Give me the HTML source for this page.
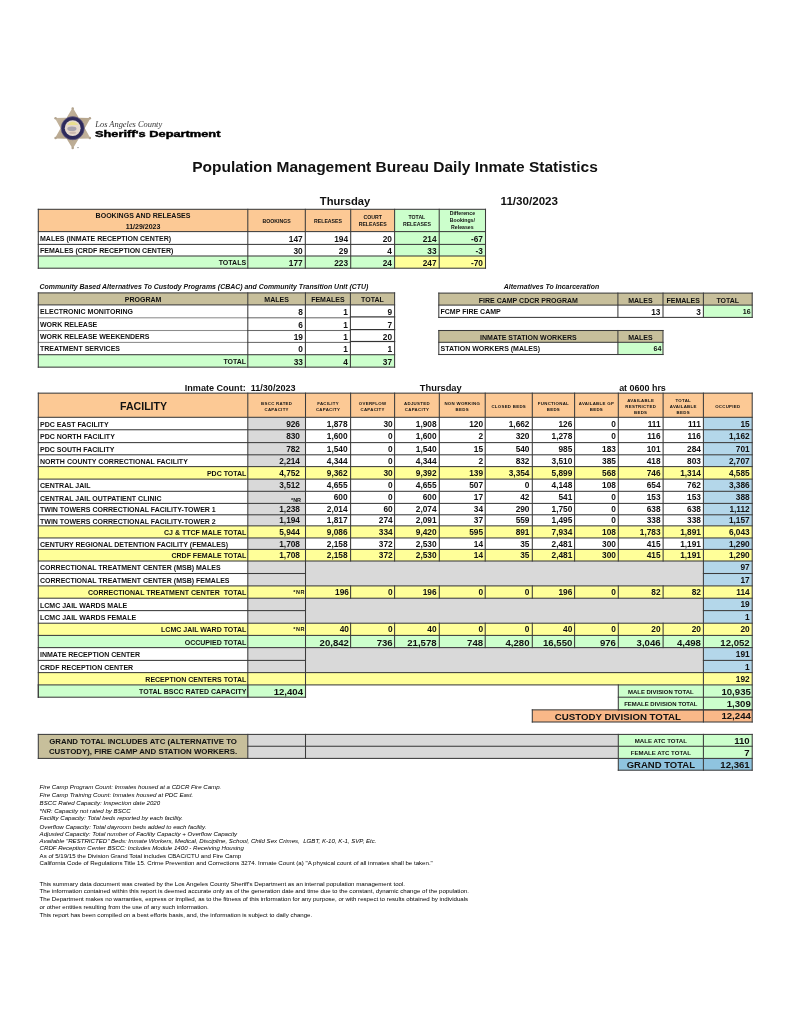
<!DOCTYPE html>
<html lang="en"><head><meta charset="utf-8"><title>Population Management Bureau Daily Inmate Statistics</title>
<style>
html,body{margin:0;padding:0;background:#fff}
body{width:791px;height:1024px;position:relative;overflow:hidden;font-family:"Liberation Sans",Arial,sans-serif;color:#111}
.r,.l,.t{position:absolute;box-sizing:border-box}
.t{white-space:nowrap;overflow:visible}
.ml{white-space:normal}
.sd{-webkit-text-stroke:0.45px #000;transform-origin:0 50%;transform:scaleX(1.335)}
</style></head><body>
<svg style="position:absolute;left:0;top:0" width="791" height="1024" viewBox="0 0 791 1024">
<rect x="38.30" y="209.30" width="356.30" height="22.30" fill="#FCC995"/>
<rect x="394.60" y="209.30" width="90.90" height="46.70" fill="#CCFFCC"/>
<rect x="38.30" y="256.00" width="356.30" height="12.20" fill="#CCFFCC"/>
<rect x="394.60" y="256.00" width="90.90" height="12.20" fill="#FFFF99"/>
<rect x="38.30" y="292.90" width="356.30" height="12.00" fill="#C7BF9B"/>
<rect x="38.30" y="354.70" width="356.30" height="12.45" fill="#CCFFCC"/>
<rect x="438.80" y="293.10" width="313.40" height="12.00" fill="#C7BF9B"/>
<rect x="703.40" y="305.10" width="48.80" height="12.30" fill="#CCFFCC"/>
<rect x="438.80" y="330.50" width="224.20" height="11.80" fill="#C7BF9B"/>
<rect x="617.90" y="342.30" width="45.10" height="12.20" fill="#CCFFCC"/>
<rect x="38.30" y="393.15" width="713.90" height="24.15" fill="#FCC995"/>
<rect x="247.80" y="417.30" width="57.70" height="12.45" fill="#D9D9D9"/>
<rect x="703.40" y="417.30" width="48.80" height="12.45" fill="#B4D7EA"/>
<rect x="247.80" y="429.75" width="57.70" height="12.85" fill="#D9D9D9"/>
<rect x="703.40" y="429.75" width="48.80" height="12.85" fill="#B4D7EA"/>
<rect x="247.80" y="442.60" width="57.70" height="12.20" fill="#D9D9D9"/>
<rect x="703.40" y="442.60" width="48.80" height="12.20" fill="#B4D7EA"/>
<rect x="247.80" y="454.80" width="57.70" height="11.80" fill="#D9D9D9"/>
<rect x="703.40" y="454.80" width="48.80" height="11.80" fill="#B4D7EA"/>
<rect x="38.30" y="466.60" width="713.90" height="12.50" fill="#FFFF99"/>
<rect x="247.80" y="479.10" width="57.70" height="12.20" fill="#D9D9D9"/>
<rect x="703.40" y="479.10" width="48.80" height="12.20" fill="#B4D7EA"/>
<rect x="247.80" y="491.30" width="57.70" height="12.10" fill="#D9D9D9"/>
<rect x="703.40" y="491.30" width="48.80" height="12.10" fill="#B4D7EA"/>
<rect x="247.80" y="503.40" width="57.70" height="11.40" fill="#D9D9D9"/>
<rect x="703.40" y="503.40" width="48.80" height="11.40" fill="#B4D7EA"/>
<rect x="247.80" y="514.80" width="57.70" height="11.05" fill="#D9D9D9"/>
<rect x="703.40" y="514.80" width="48.80" height="11.05" fill="#B4D7EA"/>
<rect x="38.30" y="525.85" width="713.90" height="12.10" fill="#FFFF99"/>
<rect x="247.80" y="537.95" width="57.70" height="11.45" fill="#D9D9D9"/>
<rect x="703.40" y="537.95" width="48.80" height="11.45" fill="#B4D7EA"/>
<rect x="38.30" y="549.40" width="713.90" height="11.60" fill="#FFFF99"/>
<rect x="247.80" y="561.00" width="455.60" height="12.50" fill="#D9D9D9"/>
<rect x="703.40" y="561.00" width="48.80" height="12.50" fill="#B4D7EA"/>
<rect x="247.80" y="573.50" width="455.60" height="12.40" fill="#D9D9D9"/>
<rect x="703.40" y="573.50" width="48.80" height="12.40" fill="#B4D7EA"/>
<rect x="38.30" y="585.90" width="713.90" height="12.30" fill="#FFFF99"/>
<rect x="247.80" y="598.20" width="455.60" height="12.40" fill="#D9D9D9"/>
<rect x="703.40" y="598.20" width="48.80" height="12.40" fill="#B4D7EA"/>
<rect x="247.80" y="610.60" width="455.60" height="12.60" fill="#D9D9D9"/>
<rect x="703.40" y="610.60" width="48.80" height="12.60" fill="#B4D7EA"/>
<rect x="38.30" y="623.20" width="713.90" height="12.20" fill="#FFFF99"/>
<rect x="38.30" y="635.40" width="713.90" height="12.20" fill="#CCFFCC"/>
<rect x="247.80" y="647.60" width="455.60" height="12.80" fill="#D9D9D9"/>
<rect x="703.40" y="647.60" width="48.80" height="12.80" fill="#B4D7EA"/>
<rect x="247.80" y="660.40" width="455.60" height="12.20" fill="#D9D9D9"/>
<rect x="703.40" y="660.40" width="48.80" height="12.20" fill="#B4D7EA"/>
<rect x="38.30" y="672.60" width="713.90" height="12.30" fill="#FFFF99"/>
<rect x="247.80" y="561.00" width="455.60" height="24.90" fill="#D9D9D9"/>
<rect x="247.80" y="598.20" width="455.60" height="25.00" fill="#D9D9D9"/>
<rect x="247.80" y="647.60" width="455.60" height="25.00" fill="#D9D9D9"/>
<rect x="38.30" y="684.90" width="267.20" height="12.30" fill="#CCFFCC"/>
<rect x="618.30" y="684.90" width="133.90" height="12.30" fill="#CCFFCC"/>
<rect x="618.30" y="697.20" width="133.90" height="12.65" fill="#CCFFCC"/>
<rect x="532.30" y="709.85" width="219.90" height="12.15" fill="#F9B888"/>
<rect x="38.30" y="734.40" width="209.50" height="24.00" fill="#C7BF9B"/>
<rect x="247.80" y="734.40" width="370.50" height="24.00" fill="#D9D9D9"/>
<rect x="618.30" y="734.40" width="133.90" height="24.00" fill="#CCFFCC"/>
<rect x="618.30" y="758.40" width="133.90" height="11.80" fill="#8FC4DF"/>
<rect x="37.77" y="208.78" width="448.25" height="1.05" fill="#3c3c3c"/>
<rect x="37.77" y="231.07" width="448.25" height="1.05" fill="#3c3c3c"/>
<rect x="37.77" y="243.88" width="448.25" height="1.05" fill="#3c3c3c"/>
<rect x="37.77" y="255.47" width="448.25" height="1.05" fill="#3c3c3c"/>
<rect x="37.77" y="267.68" width="448.25" height="1.05" fill="#3c3c3c"/>
<rect x="37.77" y="208.78" width="1.05" height="59.95" fill="#3c3c3c"/>
<rect x="247.28" y="208.78" width="1.05" height="59.95" fill="#3c3c3c"/>
<rect x="304.78" y="208.78" width="1.05" height="59.95" fill="#3c3c3c"/>
<rect x="350.18" y="208.78" width="1.05" height="59.95" fill="#3c3c3c"/>
<rect x="394.08" y="208.78" width="1.05" height="59.95" fill="#3c3c3c"/>
<rect x="438.68" y="208.78" width="1.05" height="59.95" fill="#3c3c3c"/>
<rect x="484.98" y="208.78" width="1.05" height="59.95" fill="#3c3c3c"/>
<rect x="37.77" y="292.38" width="357.35" height="1.05" fill="#3c3c3c"/>
<rect x="37.77" y="304.38" width="357.35" height="1.05" fill="#3c3c3c"/>
<rect x="37.77" y="317.28" width="210.55" height="1.05" fill="#8c8c8c"/>
<rect x="247.28" y="317.28" width="103.65" height="1.05" fill="#6a6a6a"/>
<rect x="349.80" y="316.30" width="45.40" height="1.20" fill="#333"/>
<rect x="37.77" y="329.98" width="210.55" height="1.05" fill="#8c8c8c"/>
<rect x="247.28" y="329.98" width="103.65" height="1.05" fill="#6a6a6a"/>
<rect x="349.80" y="329.00" width="45.40" height="1.20" fill="#333"/>
<rect x="37.77" y="341.88" width="210.55" height="1.05" fill="#8c8c8c"/>
<rect x="247.28" y="341.88" width="103.65" height="1.05" fill="#6a6a6a"/>
<rect x="349.80" y="340.90" width="45.40" height="1.20" fill="#333"/>
<rect x="37.77" y="354.18" width="357.35" height="1.05" fill="#3c3c3c"/>
<rect x="37.77" y="366.62" width="357.35" height="1.05" fill="#3c3c3c"/>
<rect x="37.77" y="292.38" width="1.05" height="75.30" fill="#3c3c3c"/>
<rect x="247.28" y="292.38" width="1.05" height="75.30" fill="#3c3c3c"/>
<rect x="304.88" y="292.38" width="1.05" height="75.30" fill="#3c3c3c"/>
<rect x="349.88" y="292.38" width="1.05" height="75.30" fill="#3c3c3c"/>
<rect x="394.08" y="292.38" width="1.05" height="75.30" fill="#3c3c3c"/>
<rect x="438.28" y="292.58" width="314.45" height="1.05" fill="#3c3c3c"/>
<rect x="438.28" y="304.58" width="314.45" height="1.05" fill="#3c3c3c"/>
<rect x="438.28" y="316.88" width="314.45" height="1.05" fill="#3c3c3c"/>
<rect x="438.28" y="292.58" width="1.05" height="25.35" fill="#3c3c3c"/>
<rect x="617.38" y="292.58" width="1.05" height="25.35" fill="#3c3c3c"/>
<rect x="662.48" y="292.58" width="1.05" height="25.35" fill="#3c3c3c"/>
<rect x="702.88" y="292.58" width="1.05" height="25.35" fill="#3c3c3c"/>
<rect x="751.68" y="292.58" width="1.05" height="25.35" fill="#3c3c3c"/>
<rect x="438.28" y="329.98" width="225.25" height="1.05" fill="#3c3c3c"/>
<rect x="438.28" y="341.78" width="225.25" height="1.05" fill="#3c3c3c"/>
<rect x="438.28" y="353.98" width="225.25" height="1.05" fill="#3c3c3c"/>
<rect x="438.28" y="329.98" width="1.05" height="25.05" fill="#3c3c3c"/>
<rect x="617.38" y="329.98" width="1.05" height="25.05" fill="#3c3c3c"/>
<rect x="662.48" y="329.98" width="1.05" height="25.05" fill="#3c3c3c"/>
<rect x="37.77" y="392.62" width="714.95" height="1.05" fill="#3c3c3c"/>
<rect x="37.77" y="416.78" width="714.95" height="1.05" fill="#3c3c3c"/>
<rect x="37.77" y="429.23" width="714.95" height="1.05" fill="#3c3c3c"/>
<rect x="37.77" y="442.08" width="714.95" height="1.05" fill="#3c3c3c"/>
<rect x="37.77" y="454.28" width="714.95" height="1.05" fill="#3c3c3c"/>
<rect x="37.77" y="466.08" width="714.95" height="1.05" fill="#3c3c3c"/>
<rect x="37.77" y="478.58" width="714.95" height="1.05" fill="#3c3c3c"/>
<rect x="37.77" y="490.78" width="714.95" height="1.05" fill="#3c3c3c"/>
<rect x="37.77" y="502.88" width="714.95" height="1.05" fill="#3c3c3c"/>
<rect x="37.77" y="514.27" width="714.95" height="1.05" fill="#3c3c3c"/>
<rect x="37.77" y="525.33" width="714.95" height="1.05" fill="#3c3c3c"/>
<rect x="37.77" y="537.43" width="714.95" height="1.05" fill="#3c3c3c"/>
<rect x="37.77" y="548.88" width="714.95" height="1.05" fill="#3c3c3c"/>
<rect x="37.77" y="560.48" width="714.95" height="1.05" fill="#3c3c3c"/>
<rect x="37.77" y="572.98" width="268.25" height="1.05" fill="#3c3c3c"/>
<rect x="702.88" y="572.98" width="49.85" height="1.05" fill="#3c3c3c"/>
<rect x="37.77" y="585.38" width="714.95" height="1.05" fill="#3c3c3c"/>
<rect x="37.77" y="597.68" width="714.95" height="1.05" fill="#3c3c3c"/>
<rect x="37.77" y="610.08" width="268.25" height="1.05" fill="#3c3c3c"/>
<rect x="702.88" y="610.08" width="49.85" height="1.05" fill="#3c3c3c"/>
<rect x="37.77" y="622.68" width="714.95" height="1.05" fill="#3c3c3c"/>
<rect x="37.77" y="634.88" width="714.95" height="1.05" fill="#3c3c3c"/>
<rect x="37.77" y="647.08" width="714.95" height="1.05" fill="#3c3c3c"/>
<rect x="37.77" y="659.88" width="268.25" height="1.05" fill="#3c3c3c"/>
<rect x="702.88" y="659.88" width="49.85" height="1.05" fill="#3c3c3c"/>
<rect x="37.77" y="672.08" width="714.95" height="1.05" fill="#3c3c3c"/>
<rect x="37.77" y="684.38" width="714.95" height="1.05" fill="#3c3c3c"/>
<rect x="37.77" y="392.62" width="1.05" height="305.10" fill="#3c3c3c"/>
<rect x="247.28" y="392.62" width="1.05" height="305.10" fill="#3c3c3c"/>
<rect x="304.98" y="392.62" width="1.05" height="305.10" fill="#3c3c3c"/>
<rect x="702.88" y="392.62" width="1.05" height="329.90" fill="#3c3c3c"/>
<rect x="751.68" y="392.62" width="1.05" height="329.90" fill="#3c3c3c"/>
<rect x="350.08" y="392.62" width="1.05" height="168.90" fill="#3c3c3c"/>
<rect x="350.08" y="585.38" width="1.05" height="13.35" fill="#3c3c3c"/>
<rect x="350.08" y="622.68" width="1.05" height="25.45" fill="#3c3c3c"/>
<rect x="394.08" y="392.62" width="1.05" height="168.90" fill="#3c3c3c"/>
<rect x="394.08" y="585.38" width="1.05" height="13.35" fill="#3c3c3c"/>
<rect x="394.08" y="622.68" width="1.05" height="25.45" fill="#3c3c3c"/>
<rect x="438.78" y="392.62" width="1.05" height="168.90" fill="#3c3c3c"/>
<rect x="438.78" y="585.38" width="1.05" height="13.35" fill="#3c3c3c"/>
<rect x="438.78" y="622.68" width="1.05" height="25.45" fill="#3c3c3c"/>
<rect x="484.68" y="392.62" width="1.05" height="168.90" fill="#3c3c3c"/>
<rect x="484.68" y="585.38" width="1.05" height="13.35" fill="#3c3c3c"/>
<rect x="484.68" y="622.68" width="1.05" height="25.45" fill="#3c3c3c"/>
<rect x="531.77" y="392.62" width="1.05" height="168.90" fill="#3c3c3c"/>
<rect x="531.77" y="585.38" width="1.05" height="13.35" fill="#3c3c3c"/>
<rect x="531.77" y="622.68" width="1.05" height="25.45" fill="#3c3c3c"/>
<rect x="574.08" y="392.62" width="1.05" height="168.90" fill="#3c3c3c"/>
<rect x="574.08" y="585.38" width="1.05" height="13.35" fill="#3c3c3c"/>
<rect x="574.08" y="622.68" width="1.05" height="25.45" fill="#3c3c3c"/>
<rect x="617.77" y="392.62" width="1.05" height="168.90" fill="#3c3c3c"/>
<rect x="617.77" y="585.38" width="1.05" height="13.35" fill="#3c3c3c"/>
<rect x="617.77" y="622.68" width="1.05" height="25.45" fill="#3c3c3c"/>
<rect x="662.58" y="392.62" width="1.05" height="168.90" fill="#3c3c3c"/>
<rect x="662.58" y="585.38" width="1.05" height="13.35" fill="#3c3c3c"/>
<rect x="662.58" y="622.68" width="1.05" height="25.45" fill="#3c3c3c"/>
<rect x="37.77" y="696.68" width="268.25" height="1.05" fill="#3c3c3c"/>
<rect x="617.77" y="696.68" width="134.95" height="1.05" fill="#3c3c3c"/>
<rect x="617.77" y="709.33" width="134.95" height="1.05" fill="#3c3c3c"/>
<rect x="531.77" y="709.33" width="220.95" height="1.05" fill="#3c3c3c"/>
<rect x="531.77" y="721.48" width="220.95" height="1.05" fill="#3c3c3c"/>
<rect x="617.77" y="684.38" width="1.05" height="26.00" fill="#3c3c3c"/>
<rect x="531.77" y="709.33" width="1.05" height="13.20" fill="#3c3c3c"/>
<rect x="37.77" y="684.38" width="1.05" height="13.35" fill="#3c3c3c"/>
<rect x="247.28" y="684.38" width="1.05" height="13.35" fill="#3c3c3c"/>
<rect x="304.98" y="684.38" width="1.05" height="13.35" fill="#3c3c3c"/>
<rect x="37.77" y="733.88" width="714.95" height="1.05" fill="#3c3c3c"/>
<rect x="247.28" y="745.73" width="505.45" height="1.05" fill="#3c3c3c"/>
<rect x="37.77" y="757.88" width="714.95" height="1.05" fill="#3c3c3c"/>
<rect x="617.77" y="769.68" width="134.95" height="1.05" fill="#3c3c3c"/>
<rect x="37.77" y="733.88" width="1.05" height="25.05" fill="#3c3c3c"/>
<rect x="247.28" y="733.88" width="1.05" height="25.05" fill="#3c3c3c"/>
<rect x="304.98" y="733.88" width="1.05" height="25.05" fill="#3c3c3c"/>
<rect x="617.77" y="733.88" width="1.05" height="36.85" fill="#3c3c3c"/>
<rect x="702.88" y="733.88" width="1.05" height="36.85" fill="#3c3c3c"/>
<rect x="751.68" y="733.88" width="1.05" height="36.85" fill="#3c3c3c"/>
</svg>
<svg class="logo" style="position:absolute;left:45px;top:100px" width="60" height="56" viewBox="45 100 60 56">
<defs><linearGradient id="sg" x1="0" y1="0" x2="1" y2="1"><stop offset="0" stop-color="#CDBFA9"/><stop offset="0.5" stop-color="#B5A48B"/><stop offset="1" stop-color="#C9BBA6"/></linearGradient>
<filter id="bl" x="-10%" y="-10%" width="120%" height="120%"><feGaussianBlur stdDeviation="0.35"/></filter></defs>
<g transform="translate(72.7,128.2)" filter="url(#bl)">
<polygon points="0.00,-20.60 6.07,-10.51 17.84,-10.30 12.13,0.00 17.84,10.30 6.07,10.51 0.00,20.60 -6.07,10.51 -17.84,10.30 -12.13,0.00 -17.84,-10.30 -6.07,-10.51" fill="url(#sg)"/>
<circle cx="0.00" cy="-19.80" r="1.25" fill="#B3A48F"/><circle cx="17.15" cy="-9.90" r="1.25" fill="#B3A48F"/><circle cx="17.15" cy="9.90" r="1.25" fill="#B3A48F"/><circle cx="0.00" cy="19.80" r="1.25" fill="#B3A48F"/><circle cx="-17.15" cy="9.90" r="1.25" fill="#B3A48F"/><circle cx="-17.15" cy="-9.90" r="1.25" fill="#B3A48F"/>
<circle r="11.6" fill="#2E2A5C"/>
<circle r="11.6" fill="none" stroke="#6B6488" stroke-width="0.6"/>
<circle r="7.9" fill="#E6D8CC"/>
<path d="M-5.5,-3.2 A6.4,6.4 0 0 1 5.5,-3.2 Z" fill="#E9DE8E"/>
<ellipse cx="-0.8" cy="0.6" rx="4.6" ry="2.3" fill="#A9A3AE"/>
<ellipse cx="0" cy="4.6" rx="3.4" ry="1.2" fill="#CDB9B0"/>
<circle cx="5.3" cy="19.4" r="0.7" fill="#777"/>
</g></svg>
<div class="t " style="left:150.0px;top:157.90px;width:490.0px;height:18.60px;line-height:18.60px;font-size:15.5px;text-align:center;font-weight:bold;">Population Management Bureau Daily Inmate Statistics</div>
<div class="t " style="left:300.0px;top:195.08px;width:90.0px;height:13.44px;line-height:13.44px;font-size:11.2px;text-align:center;font-weight:bold;">Thursday</div>
<div class="t " style="left:479.3px;top:194.34px;width:100.0px;height:13.92px;line-height:13.92px;font-size:11.6px;text-align:center;font-weight:bold;">11/30/2023</div>
<div class="t " style="left:38.3px;top:211.99px;width:209.5px;height:8.42px;line-height:8.42px;font-size:7.02px;text-align:center;font-weight:bold;">BOOKINGS AND RELEASES</div>
<div class="t " style="left:38.3px;top:223.09px;width:209.5px;height:8.42px;line-height:8.42px;font-size:7.02px;text-align:center;font-weight:bold;">11/29/2023</div>
<div class="t " style="left:247.8px;top:218.18px;width:57.5px;height:6.24px;line-height:6.24px;font-size:5.2px;text-align:center;font-weight:bold;">BOOKINGS</div>
<div class="t " style="left:305.3px;top:218.18px;width:45.4px;height:6.24px;line-height:6.24px;font-size:5.2px;text-align:center;font-weight:bold;">RELEASES</div>
<div class="t ml" style="left:350.7px;top:214.20px;width:43.9px;height:6.70px;line-height:6.70px;font-size:5.2px;text-align:center;font-weight:bold;">COURT<br>RELEASES</div>
<div class="t ml" style="left:394.6px;top:214.20px;width:44.6px;height:6.70px;line-height:6.70px;font-size:5.2px;text-align:center;font-weight:bold;">TOTAL<br>RELEASES</div>
<div class="t ml" style="left:439.2px;top:210.05px;width:46.3px;height:7.10px;line-height:7.10px;font-size:5.2px;text-align:center;font-weight:bold;">Difference<br>Bookings/<br>Releases</div>
<div class="t " style="left:38.3px;top:234.89px;width:209.5px;height:8.42px;line-height:8.42px;font-size:7.02px;text-align:left;padding-left:1.7px;font-weight:bold;">MALES (INMATE RECEPTION CENTER)</div>
<div class="t " style="left:247.8px;top:235.02px;width:57.5px;height:9.96px;line-height:9.96px;font-size:8.3px;text-align:right;padding-right:2.6px;font-weight:bold;">147</div>
<div class="t " style="left:305.3px;top:235.02px;width:45.4px;height:9.96px;line-height:9.96px;font-size:8.3px;text-align:right;padding-right:2.6px;font-weight:bold;">194</div>
<div class="t " style="left:350.7px;top:235.02px;width:43.9px;height:9.96px;line-height:9.96px;font-size:8.3px;text-align:right;padding-right:2.6px;font-weight:bold;">20</div>
<div class="t " style="left:394.6px;top:235.02px;width:44.6px;height:9.96px;line-height:9.96px;font-size:8.3px;text-align:right;padding-right:2.6px;font-weight:bold;">214</div>
<div class="t " style="left:439.2px;top:235.02px;width:46.3px;height:9.96px;line-height:9.96px;font-size:8.3px;text-align:right;padding-right:2.6px;font-weight:bold;">-67</div>
<div class="t " style="left:38.3px;top:247.09px;width:209.5px;height:8.42px;line-height:8.42px;font-size:7.02px;text-align:left;padding-left:1.7px;font-weight:bold;">FEMALES (CRDF RECEPTION CENTER)</div>
<div class="t " style="left:247.8px;top:247.22px;width:57.5px;height:9.96px;line-height:9.96px;font-size:8.3px;text-align:right;padding-right:2.6px;font-weight:bold;">30</div>
<div class="t " style="left:305.3px;top:247.22px;width:45.4px;height:9.96px;line-height:9.96px;font-size:8.3px;text-align:right;padding-right:2.6px;font-weight:bold;">29</div>
<div class="t " style="left:350.7px;top:247.22px;width:43.9px;height:9.96px;line-height:9.96px;font-size:8.3px;text-align:right;padding-right:2.6px;font-weight:bold;">4</div>
<div class="t " style="left:394.6px;top:247.22px;width:44.6px;height:9.96px;line-height:9.96px;font-size:8.3px;text-align:right;padding-right:2.6px;font-weight:bold;">33</div>
<div class="t " style="left:439.2px;top:247.22px;width:46.3px;height:9.96px;line-height:9.96px;font-size:8.3px;text-align:right;padding-right:2.6px;font-weight:bold;">-3</div>
<div class="t " style="left:38.3px;top:258.99px;width:209.5px;height:8.42px;line-height:8.42px;font-size:7.02px;text-align:right;padding-right:1.7px;font-weight:bold;">TOTALS</div>
<div class="t " style="left:247.8px;top:259.12px;width:57.5px;height:9.96px;line-height:9.96px;font-size:8.3px;text-align:right;padding-right:2.6px;font-weight:bold;">177</div>
<div class="t " style="left:305.3px;top:259.12px;width:45.4px;height:9.96px;line-height:9.96px;font-size:8.3px;text-align:right;padding-right:2.6px;font-weight:bold;">223</div>
<div class="t " style="left:350.7px;top:259.12px;width:43.9px;height:9.96px;line-height:9.96px;font-size:8.3px;text-align:right;padding-right:2.6px;font-weight:bold;">24</div>
<div class="t " style="left:394.6px;top:259.12px;width:44.6px;height:9.96px;line-height:9.96px;font-size:8.3px;text-align:right;padding-right:2.6px;font-weight:bold;">247</div>
<div class="t " style="left:439.2px;top:259.12px;width:46.3px;height:9.96px;line-height:9.96px;font-size:8.3px;text-align:right;padding-right:2.6px;font-weight:bold;">-70</div>
<div class="t " style="left:39.5px;top:283.44px;width:360.5px;height:8.33px;line-height:8.33px;font-size:6.94px;text-align:left;padding-left:0px;font-weight:bold;font-style:italic;">Community Based Alternatives To Custody Programs (CBAC) and Community Transition Unit (CTU)</div>
<div class="t " style="left:38.3px;top:296.39px;width:209.5px;height:8.42px;line-height:8.42px;font-size:7.02px;text-align:center;font-weight:bold;">PROGRAM</div>
<div class="t " style="left:247.8px;top:296.39px;width:57.6px;height:8.42px;line-height:8.42px;font-size:7.02px;text-align:center;font-weight:bold;">MALES</div>
<div class="t " style="left:305.4px;top:296.39px;width:45.0px;height:8.42px;line-height:8.42px;font-size:7.02px;text-align:center;font-weight:bold;">FEMALES</div>
<div class="t " style="left:350.4px;top:296.39px;width:44.2px;height:8.42px;line-height:8.42px;font-size:7.02px;text-align:center;font-weight:bold;">TOTAL</div>
<div class="t " style="left:38.3px;top:307.94px;width:209.5px;height:8.42px;line-height:8.42px;font-size:7.02px;text-align:left;padding-left:1.7px;font-weight:bold;">ELECTRONIC MONITORING</div>
<div class="t " style="left:247.8px;top:308.27px;width:57.6px;height:9.96px;line-height:9.96px;font-size:8.3px;text-align:right;padding-right:2.5px;font-weight:bold;">8</div>
<div class="t " style="left:305.4px;top:308.27px;width:45.0px;height:9.96px;line-height:9.96px;font-size:8.3px;text-align:right;padding-right:2.5px;font-weight:bold;">1</div>
<div class="t " style="left:350.4px;top:308.27px;width:44.2px;height:9.96px;line-height:9.96px;font-size:8.3px;text-align:right;padding-right:2.5px;font-weight:bold;">9</div>
<div class="t " style="left:38.3px;top:320.74px;width:209.5px;height:8.42px;line-height:8.42px;font-size:7.02px;text-align:left;padding-left:1.7px;font-weight:bold;">WORK RELEASE</div>
<div class="t " style="left:247.8px;top:321.07px;width:57.6px;height:9.96px;line-height:9.96px;font-size:8.3px;text-align:right;padding-right:2.5px;font-weight:bold;">6</div>
<div class="t " style="left:305.4px;top:321.07px;width:45.0px;height:9.96px;line-height:9.96px;font-size:8.3px;text-align:right;padding-right:2.5px;font-weight:bold;">1</div>
<div class="t " style="left:350.4px;top:321.07px;width:44.2px;height:9.96px;line-height:9.96px;font-size:8.3px;text-align:right;padding-right:2.5px;font-weight:bold;">7</div>
<div class="t " style="left:38.3px;top:333.04px;width:209.5px;height:8.42px;line-height:8.42px;font-size:7.02px;text-align:left;padding-left:1.7px;font-weight:bold;">WORK RELEASE WEEKENDERS</div>
<div class="t " style="left:247.8px;top:333.37px;width:57.6px;height:9.96px;line-height:9.96px;font-size:8.3px;text-align:right;padding-right:2.5px;font-weight:bold;">19</div>
<div class="t " style="left:305.4px;top:333.37px;width:45.0px;height:9.96px;line-height:9.96px;font-size:8.3px;text-align:right;padding-right:2.5px;font-weight:bold;">1</div>
<div class="t " style="left:350.4px;top:333.37px;width:44.2px;height:9.96px;line-height:9.96px;font-size:8.3px;text-align:right;padding-right:2.5px;font-weight:bold;">20</div>
<div class="t " style="left:38.3px;top:345.14px;width:209.5px;height:8.42px;line-height:8.42px;font-size:7.02px;text-align:left;padding-left:1.7px;font-weight:bold;">TREATMENT SERVICES</div>
<div class="t " style="left:247.8px;top:345.47px;width:57.6px;height:9.96px;line-height:9.96px;font-size:8.3px;text-align:right;padding-right:2.5px;font-weight:bold;">0</div>
<div class="t " style="left:305.4px;top:345.47px;width:45.0px;height:9.96px;line-height:9.96px;font-size:8.3px;text-align:right;padding-right:2.5px;font-weight:bold;">1</div>
<div class="t " style="left:350.4px;top:345.47px;width:44.2px;height:9.96px;line-height:9.96px;font-size:8.3px;text-align:right;padding-right:2.5px;font-weight:bold;">1</div>
<div class="t " style="left:38.3px;top:357.51px;width:209.5px;height:8.42px;line-height:8.42px;font-size:7.02px;text-align:right;padding-right:1.7px;font-weight:bold;">TOTAL</div>
<div class="t " style="left:247.8px;top:357.84px;width:57.6px;height:9.96px;line-height:9.96px;font-size:8.3px;text-align:right;padding-right:2.5px;font-weight:bold;">33</div>
<div class="t " style="left:305.4px;top:357.84px;width:45.0px;height:9.96px;line-height:9.96px;font-size:8.3px;text-align:right;padding-right:2.5px;font-weight:bold;">4</div>
<div class="t " style="left:350.4px;top:357.84px;width:44.2px;height:9.96px;line-height:9.96px;font-size:8.3px;text-align:right;padding-right:2.5px;font-weight:bold;">37</div>
<div class="t " style="left:481.5px;top:283.44px;width:140.0px;height:8.33px;line-height:8.33px;font-size:6.94px;text-align:center;font-weight:bold;font-style:italic;">Alternatives To Incarceration</div>
<div class="t " style="left:438.8px;top:296.59px;width:179.1px;height:8.42px;line-height:8.42px;font-size:7.02px;text-align:center;font-weight:bold;">FIRE CAMP CDCR PROGRAM</div>
<div class="t " style="left:617.9px;top:296.59px;width:45.1px;height:8.42px;line-height:8.42px;font-size:7.02px;text-align:center;font-weight:bold;">MALES</div>
<div class="t " style="left:663.0px;top:296.59px;width:40.4px;height:8.42px;line-height:8.42px;font-size:7.02px;text-align:center;font-weight:bold;">FEMALES</div>
<div class="t " style="left:703.4px;top:296.59px;width:48.8px;height:8.42px;line-height:8.42px;font-size:7.02px;text-align:center;font-weight:bold;">TOTAL</div>
<div class="t " style="left:438.8px;top:307.64px;width:179.1px;height:8.42px;line-height:8.42px;font-size:7.02px;text-align:left;padding-left:1.7px;font-weight:bold;">FCMP FIRE CAMP</div>
<div class="t " style="left:617.9px;top:307.67px;width:45.1px;height:9.96px;line-height:9.96px;font-size:8.3px;text-align:right;padding-right:2.5px;font-weight:bold;">13</div>
<div class="t " style="left:663.0px;top:307.67px;width:40.4px;height:9.96px;line-height:9.96px;font-size:8.3px;text-align:right;padding-right:2.5px;font-weight:bold;">3</div>
<div class="t " style="left:703.4px;top:308.14px;width:48.8px;height:8.42px;line-height:8.42px;font-size:7.02px;text-align:right;padding-right:1.6px;font-weight:bold;">16</div>
<div class="t " style="left:438.8px;top:333.89px;width:179.1px;height:8.42px;line-height:8.42px;font-size:7.02px;text-align:center;font-weight:bold;">INMATE STATION WORKERS</div>
<div class="t " style="left:617.9px;top:333.89px;width:45.1px;height:8.42px;line-height:8.42px;font-size:7.02px;text-align:center;font-weight:bold;">MALES</div>
<div class="t " style="left:438.8px;top:344.79px;width:179.1px;height:8.42px;line-height:8.42px;font-size:7.02px;text-align:left;padding-left:1.7px;font-weight:bold;">STATION WORKERS (MALES)</div>
<div class="t " style="left:617.9px;top:345.29px;width:45.1px;height:8.42px;line-height:8.42px;font-size:7.02px;text-align:right;padding-right:1.6px;font-weight:bold;">64</div>
<div class="t " style="left:150.0px;top:382.96px;width:145.6px;height:10.88px;line-height:10.88px;font-size:9.07px;text-align:right;padding-right:0px;font-weight:bold;">Inmate Count:&nbsp; 11/30/2023</div>
<div class="t " style="left:400.8px;top:382.82px;width:80.0px;height:11.16px;line-height:11.16px;font-size:9.3px;text-align:center;font-weight:bold;">Thursday</div>
<div class="t " style="left:592.5px;top:383.03px;width:100.0px;height:10.74px;line-height:10.74px;font-size:8.95px;text-align:center;font-weight:bold;">at 0600 hrs</div>
<div class="t " style="left:38.8px;top:400.37px;width:209.5px;height:12.72px;line-height:12.72px;font-size:10.6px;text-align:center;font-weight:bold;">FACILITY</div>
<div class="t ml" style="left:247.8px;top:400.62px;width:57.7px;height:6.00px;line-height:6.00px;font-size:4.35px;text-align:center;font-weight:bold;letter-spacing:0.3px;">BSCC RATED<br>CAPACITY</div>
<div class="t ml" style="left:305.5px;top:400.62px;width:45.1px;height:6.00px;line-height:6.00px;font-size:4.35px;text-align:center;font-weight:bold;letter-spacing:0.3px;">FACILITY<br>CAPACITY</div>
<div class="t ml" style="left:350.6px;top:400.62px;width:44.0px;height:6.00px;line-height:6.00px;font-size:4.35px;text-align:center;font-weight:bold;letter-spacing:0.3px;">OVERFLOW<br>CAPACITY</div>
<div class="t ml" style="left:394.6px;top:400.62px;width:44.7px;height:6.00px;line-height:6.00px;font-size:4.35px;text-align:center;font-weight:bold;letter-spacing:0.3px;">ADJUSTED<br>CAPACITY</div>
<div class="t ml" style="left:439.3px;top:400.62px;width:45.9px;height:6.00px;line-height:6.00px;font-size:4.35px;text-align:center;font-weight:bold;letter-spacing:0.3px;">NON WORKING<br>BEDS</div>
<div class="t ml" style="left:485.2px;top:403.62px;width:47.1px;height:6.00px;line-height:6.00px;font-size:4.35px;text-align:center;font-weight:bold;letter-spacing:0.3px;">CLOSED BEDS</div>
<div class="t ml" style="left:532.3px;top:400.62px;width:42.3px;height:6.00px;line-height:6.00px;font-size:4.35px;text-align:center;font-weight:bold;letter-spacing:0.3px;">FUNCTIONAL<br>BEDS</div>
<div class="t ml" style="left:574.6px;top:400.62px;width:43.7px;height:6.00px;line-height:6.00px;font-size:4.35px;text-align:center;font-weight:bold;letter-spacing:0.3px;">AVAILABLE GP<br>BEDS</div>
<div class="t ml" style="left:618.3px;top:397.62px;width:44.8px;height:6.00px;line-height:6.00px;font-size:4.35px;text-align:center;font-weight:bold;letter-spacing:0.3px;">AVAILABLE<br>RESTRICTED<br>BEDS</div>
<div class="t ml" style="left:663.1px;top:397.62px;width:40.3px;height:6.00px;line-height:6.00px;font-size:4.35px;text-align:center;font-weight:bold;letter-spacing:0.3px;">TOTAL<br>AVAILABLE<br>BEDS</div>
<div class="t ml" style="left:703.4px;top:403.62px;width:48.8px;height:6.00px;line-height:6.00px;font-size:4.35px;text-align:center;font-weight:bold;letter-spacing:0.3px;">OCCUPIED</div>
<div class="t " style="left:38.3px;top:420.71px;width:209.5px;height:8.42px;line-height:8.42px;font-size:7.02px;text-align:left;padding-left:1.7px;font-weight:bold;">PDC EAST FACILITY</div>
<div class="t " style="left:247.8px;top:419.54px;width:57.7px;height:9.96px;line-height:9.96px;font-size:8.3px;text-align:right;padding-right:5.5px;font-weight:bold;">926</div>
<div class="t " style="left:305.5px;top:419.54px;width:45.1px;height:9.96px;line-height:9.96px;font-size:8.3px;text-align:right;padding-right:3.0px;font-weight:bold;">1,878</div>
<div class="t " style="left:350.6px;top:419.54px;width:44.0px;height:9.96px;line-height:9.96px;font-size:8.3px;text-align:right;padding-right:1.9px;font-weight:bold;">30</div>
<div class="t " style="left:394.6px;top:419.54px;width:44.7px;height:9.96px;line-height:9.96px;font-size:8.3px;text-align:right;padding-right:2.7px;font-weight:bold;">1,908</div>
<div class="t " style="left:439.3px;top:419.54px;width:45.9px;height:9.96px;line-height:9.96px;font-size:8.3px;text-align:right;padding-right:2.1px;font-weight:bold;">120</div>
<div class="t " style="left:485.2px;top:419.54px;width:47.1px;height:9.96px;line-height:9.96px;font-size:8.3px;text-align:right;padding-right:2.8px;font-weight:bold;">1,662</div>
<div class="t " style="left:532.3px;top:419.54px;width:42.3px;height:9.96px;line-height:9.96px;font-size:8.3px;text-align:right;padding-right:2.3px;font-weight:bold;">126</div>
<div class="t " style="left:574.6px;top:419.54px;width:43.7px;height:9.96px;line-height:9.96px;font-size:8.3px;text-align:right;padding-right:2.4px;font-weight:bold;">0</div>
<div class="t " style="left:618.3px;top:419.54px;width:44.8px;height:9.96px;line-height:9.96px;font-size:8.3px;text-align:right;padding-right:2.5px;font-weight:bold;">111</div>
<div class="t " style="left:663.1px;top:419.54px;width:40.3px;height:9.96px;line-height:9.96px;font-size:8.3px;text-align:right;padding-right:2.5px;font-weight:bold;">111</div>
<div class="t " style="left:703.4px;top:419.54px;width:48.8px;height:9.96px;line-height:9.96px;font-size:8.3px;text-align:right;padding-right:2.5px;font-weight:bold;">15</div>
<div class="t " style="left:38.3px;top:433.36px;width:209.5px;height:8.42px;line-height:8.42px;font-size:7.02px;text-align:left;padding-left:1.7px;font-weight:bold;">PDC NORTH FACILITY</div>
<div class="t " style="left:247.8px;top:432.19px;width:57.7px;height:9.96px;line-height:9.96px;font-size:8.3px;text-align:right;padding-right:5.5px;font-weight:bold;">830</div>
<div class="t " style="left:305.5px;top:432.19px;width:45.1px;height:9.96px;line-height:9.96px;font-size:8.3px;text-align:right;padding-right:3.0px;font-weight:bold;">1,600</div>
<div class="t " style="left:350.6px;top:432.19px;width:44.0px;height:9.96px;line-height:9.96px;font-size:8.3px;text-align:right;padding-right:1.9px;font-weight:bold;">0</div>
<div class="t " style="left:394.6px;top:432.19px;width:44.7px;height:9.96px;line-height:9.96px;font-size:8.3px;text-align:right;padding-right:2.7px;font-weight:bold;">1,600</div>
<div class="t " style="left:439.3px;top:432.19px;width:45.9px;height:9.96px;line-height:9.96px;font-size:8.3px;text-align:right;padding-right:2.1px;font-weight:bold;">2</div>
<div class="t " style="left:485.2px;top:432.19px;width:47.1px;height:9.96px;line-height:9.96px;font-size:8.3px;text-align:right;padding-right:2.8px;font-weight:bold;">320</div>
<div class="t " style="left:532.3px;top:432.19px;width:42.3px;height:9.96px;line-height:9.96px;font-size:8.3px;text-align:right;padding-right:2.3px;font-weight:bold;">1,278</div>
<div class="t " style="left:574.6px;top:432.19px;width:43.7px;height:9.96px;line-height:9.96px;font-size:8.3px;text-align:right;padding-right:2.4px;font-weight:bold;">0</div>
<div class="t " style="left:618.3px;top:432.19px;width:44.8px;height:9.96px;line-height:9.96px;font-size:8.3px;text-align:right;padding-right:2.5px;font-weight:bold;">116</div>
<div class="t " style="left:663.1px;top:432.19px;width:40.3px;height:9.96px;line-height:9.96px;font-size:8.3px;text-align:right;padding-right:2.5px;font-weight:bold;">116</div>
<div class="t " style="left:703.4px;top:432.19px;width:48.8px;height:9.96px;line-height:9.96px;font-size:8.3px;text-align:right;padding-right:2.5px;font-weight:bold;">1,162</div>
<div class="t " style="left:38.3px;top:445.89px;width:209.5px;height:8.42px;line-height:8.42px;font-size:7.02px;text-align:left;padding-left:1.7px;font-weight:bold;">PDC SOUTH FACILITY</div>
<div class="t " style="left:247.8px;top:444.72px;width:57.7px;height:9.96px;line-height:9.96px;font-size:8.3px;text-align:right;padding-right:5.5px;font-weight:bold;">782</div>
<div class="t " style="left:305.5px;top:444.72px;width:45.1px;height:9.96px;line-height:9.96px;font-size:8.3px;text-align:right;padding-right:3.0px;font-weight:bold;">1,540</div>
<div class="t " style="left:350.6px;top:444.72px;width:44.0px;height:9.96px;line-height:9.96px;font-size:8.3px;text-align:right;padding-right:1.9px;font-weight:bold;">0</div>
<div class="t " style="left:394.6px;top:444.72px;width:44.7px;height:9.96px;line-height:9.96px;font-size:8.3px;text-align:right;padding-right:2.7px;font-weight:bold;">1,540</div>
<div class="t " style="left:439.3px;top:444.72px;width:45.9px;height:9.96px;line-height:9.96px;font-size:8.3px;text-align:right;padding-right:2.1px;font-weight:bold;">15</div>
<div class="t " style="left:485.2px;top:444.72px;width:47.1px;height:9.96px;line-height:9.96px;font-size:8.3px;text-align:right;padding-right:2.8px;font-weight:bold;">540</div>
<div class="t " style="left:532.3px;top:444.72px;width:42.3px;height:9.96px;line-height:9.96px;font-size:8.3px;text-align:right;padding-right:2.3px;font-weight:bold;">985</div>
<div class="t " style="left:574.6px;top:444.72px;width:43.7px;height:9.96px;line-height:9.96px;font-size:8.3px;text-align:right;padding-right:2.4px;font-weight:bold;">183</div>
<div class="t " style="left:618.3px;top:444.72px;width:44.8px;height:9.96px;line-height:9.96px;font-size:8.3px;text-align:right;padding-right:2.5px;font-weight:bold;">101</div>
<div class="t " style="left:663.1px;top:444.72px;width:40.3px;height:9.96px;line-height:9.96px;font-size:8.3px;text-align:right;padding-right:2.5px;font-weight:bold;">284</div>
<div class="t " style="left:703.4px;top:444.72px;width:48.8px;height:9.96px;line-height:9.96px;font-size:8.3px;text-align:right;padding-right:2.5px;font-weight:bold;">701</div>
<div class="t " style="left:38.3px;top:457.89px;width:209.5px;height:8.42px;line-height:8.42px;font-size:7.02px;text-align:left;padding-left:1.7px;font-weight:bold;">NORTH COUNTY CORRECTIONAL FACILITY</div>
<div class="t " style="left:247.8px;top:456.72px;width:57.7px;height:9.96px;line-height:9.96px;font-size:8.3px;text-align:right;padding-right:5.5px;font-weight:bold;">2,214</div>
<div class="t " style="left:305.5px;top:456.72px;width:45.1px;height:9.96px;line-height:9.96px;font-size:8.3px;text-align:right;padding-right:3.0px;font-weight:bold;">4,344</div>
<div class="t " style="left:350.6px;top:456.72px;width:44.0px;height:9.96px;line-height:9.96px;font-size:8.3px;text-align:right;padding-right:1.9px;font-weight:bold;">0</div>
<div class="t " style="left:394.6px;top:456.72px;width:44.7px;height:9.96px;line-height:9.96px;font-size:8.3px;text-align:right;padding-right:2.7px;font-weight:bold;">4,344</div>
<div class="t " style="left:439.3px;top:456.72px;width:45.9px;height:9.96px;line-height:9.96px;font-size:8.3px;text-align:right;padding-right:2.1px;font-weight:bold;">2</div>
<div class="t " style="left:485.2px;top:456.72px;width:47.1px;height:9.96px;line-height:9.96px;font-size:8.3px;text-align:right;padding-right:2.8px;font-weight:bold;">832</div>
<div class="t " style="left:532.3px;top:456.72px;width:42.3px;height:9.96px;line-height:9.96px;font-size:8.3px;text-align:right;padding-right:2.3px;font-weight:bold;">3,510</div>
<div class="t " style="left:574.6px;top:456.72px;width:43.7px;height:9.96px;line-height:9.96px;font-size:8.3px;text-align:right;padding-right:2.4px;font-weight:bold;">385</div>
<div class="t " style="left:618.3px;top:456.72px;width:44.8px;height:9.96px;line-height:9.96px;font-size:8.3px;text-align:right;padding-right:2.5px;font-weight:bold;">418</div>
<div class="t " style="left:663.1px;top:456.72px;width:40.3px;height:9.96px;line-height:9.96px;font-size:8.3px;text-align:right;padding-right:2.5px;font-weight:bold;">803</div>
<div class="t " style="left:703.4px;top:456.72px;width:48.8px;height:9.96px;line-height:9.96px;font-size:8.3px;text-align:right;padding-right:2.5px;font-weight:bold;">2,707</div>
<div class="t " style="left:38.3px;top:470.04px;width:209.5px;height:8.42px;line-height:8.42px;font-size:7.02px;text-align:right;padding-right:1.4px;font-weight:bold;">PDC TOTAL</div>
<div class="t " style="left:247.8px;top:468.87px;width:57.7px;height:9.96px;line-height:9.96px;font-size:8.3px;text-align:right;padding-right:5.5px;font-weight:bold;">4,752</div>
<div class="t " style="left:305.5px;top:468.87px;width:45.1px;height:9.96px;line-height:9.96px;font-size:8.3px;text-align:right;padding-right:3.0px;font-weight:bold;">9,362</div>
<div class="t " style="left:350.6px;top:468.87px;width:44.0px;height:9.96px;line-height:9.96px;font-size:8.3px;text-align:right;padding-right:1.9px;font-weight:bold;">30</div>
<div class="t " style="left:394.6px;top:468.87px;width:44.7px;height:9.96px;line-height:9.96px;font-size:8.3px;text-align:right;padding-right:2.7px;font-weight:bold;">9,392</div>
<div class="t " style="left:439.3px;top:468.87px;width:45.9px;height:9.96px;line-height:9.96px;font-size:8.3px;text-align:right;padding-right:2.1px;font-weight:bold;">139</div>
<div class="t " style="left:485.2px;top:468.87px;width:47.1px;height:9.96px;line-height:9.96px;font-size:8.3px;text-align:right;padding-right:2.8px;font-weight:bold;">3,354</div>
<div class="t " style="left:532.3px;top:468.87px;width:42.3px;height:9.96px;line-height:9.96px;font-size:8.3px;text-align:right;padding-right:2.3px;font-weight:bold;">5,899</div>
<div class="t " style="left:574.6px;top:468.87px;width:43.7px;height:9.96px;line-height:9.96px;font-size:8.3px;text-align:right;padding-right:2.4px;font-weight:bold;">568</div>
<div class="t " style="left:618.3px;top:468.87px;width:44.8px;height:9.96px;line-height:9.96px;font-size:8.3px;text-align:right;padding-right:2.5px;font-weight:bold;">746</div>
<div class="t " style="left:663.1px;top:468.87px;width:40.3px;height:9.96px;line-height:9.96px;font-size:8.3px;text-align:right;padding-right:2.5px;font-weight:bold;">1,314</div>
<div class="t " style="left:703.4px;top:468.87px;width:48.8px;height:9.96px;line-height:9.96px;font-size:8.3px;text-align:right;padding-right:2.5px;font-weight:bold;">4,585</div>
<div class="t " style="left:38.3px;top:482.39px;width:209.5px;height:8.42px;line-height:8.42px;font-size:7.02px;text-align:left;padding-left:1.7px;font-weight:bold;">CENTRAL JAIL</div>
<div class="t " style="left:247.8px;top:481.22px;width:57.7px;height:9.96px;line-height:9.96px;font-size:8.3px;text-align:right;padding-right:5.5px;font-weight:bold;">3,512</div>
<div class="t " style="left:305.5px;top:481.22px;width:45.1px;height:9.96px;line-height:9.96px;font-size:8.3px;text-align:right;padding-right:3.0px;font-weight:bold;">4,655</div>
<div class="t " style="left:350.6px;top:481.22px;width:44.0px;height:9.96px;line-height:9.96px;font-size:8.3px;text-align:right;padding-right:1.9px;font-weight:bold;">0</div>
<div class="t " style="left:394.6px;top:481.22px;width:44.7px;height:9.96px;line-height:9.96px;font-size:8.3px;text-align:right;padding-right:2.7px;font-weight:bold;">4,655</div>
<div class="t " style="left:439.3px;top:481.22px;width:45.9px;height:9.96px;line-height:9.96px;font-size:8.3px;text-align:right;padding-right:2.1px;font-weight:bold;">507</div>
<div class="t " style="left:485.2px;top:481.22px;width:47.1px;height:9.96px;line-height:9.96px;font-size:8.3px;text-align:right;padding-right:2.8px;font-weight:bold;">0</div>
<div class="t " style="left:532.3px;top:481.22px;width:42.3px;height:9.96px;line-height:9.96px;font-size:8.3px;text-align:right;padding-right:2.3px;font-weight:bold;">4,148</div>
<div class="t " style="left:574.6px;top:481.22px;width:43.7px;height:9.96px;line-height:9.96px;font-size:8.3px;text-align:right;padding-right:2.4px;font-weight:bold;">108</div>
<div class="t " style="left:618.3px;top:481.22px;width:44.8px;height:9.96px;line-height:9.96px;font-size:8.3px;text-align:right;padding-right:2.5px;font-weight:bold;">654</div>
<div class="t " style="left:663.1px;top:481.22px;width:40.3px;height:9.96px;line-height:9.96px;font-size:8.3px;text-align:right;padding-right:2.5px;font-weight:bold;">762</div>
<div class="t " style="left:703.4px;top:481.22px;width:48.8px;height:9.96px;line-height:9.96px;font-size:8.3px;text-align:right;padding-right:2.5px;font-weight:bold;">3,386</div>
<div class="t " style="left:38.3px;top:494.54px;width:209.5px;height:8.42px;line-height:8.42px;font-size:7.02px;text-align:left;padding-left:1.7px;font-weight:bold;">CENTRAL JAIL OUTPATIENT CLINIC</div>
<div class="t " style="left:247.8px;top:497.05px;width:57.7px;height:6.60px;line-height:6.60px;font-size:5.5px;text-align:right;padding-right:4.4px;font-weight:bold;">*NR</div>
<div class="t " style="left:305.5px;top:493.37px;width:45.1px;height:9.96px;line-height:9.96px;font-size:8.3px;text-align:right;padding-right:3.0px;font-weight:bold;">600</div>
<div class="t " style="left:350.6px;top:493.37px;width:44.0px;height:9.96px;line-height:9.96px;font-size:8.3px;text-align:right;padding-right:1.9px;font-weight:bold;">0</div>
<div class="t " style="left:394.6px;top:493.37px;width:44.7px;height:9.96px;line-height:9.96px;font-size:8.3px;text-align:right;padding-right:2.7px;font-weight:bold;">600</div>
<div class="t " style="left:439.3px;top:493.37px;width:45.9px;height:9.96px;line-height:9.96px;font-size:8.3px;text-align:right;padding-right:2.1px;font-weight:bold;">17</div>
<div class="t " style="left:485.2px;top:493.37px;width:47.1px;height:9.96px;line-height:9.96px;font-size:8.3px;text-align:right;padding-right:2.8px;font-weight:bold;">42</div>
<div class="t " style="left:532.3px;top:493.37px;width:42.3px;height:9.96px;line-height:9.96px;font-size:8.3px;text-align:right;padding-right:2.3px;font-weight:bold;">541</div>
<div class="t " style="left:574.6px;top:493.37px;width:43.7px;height:9.96px;line-height:9.96px;font-size:8.3px;text-align:right;padding-right:2.4px;font-weight:bold;">0</div>
<div class="t " style="left:618.3px;top:493.37px;width:44.8px;height:9.96px;line-height:9.96px;font-size:8.3px;text-align:right;padding-right:2.5px;font-weight:bold;">153</div>
<div class="t " style="left:663.1px;top:493.37px;width:40.3px;height:9.96px;line-height:9.96px;font-size:8.3px;text-align:right;padding-right:2.5px;font-weight:bold;">153</div>
<div class="t " style="left:703.4px;top:493.37px;width:48.8px;height:9.96px;line-height:9.96px;font-size:8.3px;text-align:right;padding-right:2.5px;font-weight:bold;">388</div>
<div class="t " style="left:38.3px;top:506.29px;width:209.5px;height:8.42px;line-height:8.42px;font-size:7.02px;text-align:left;padding-left:1.7px;font-weight:bold;">TWIN TOWERS CORRECTIONAL FACILITY-TOWER 1</div>
<div class="t " style="left:247.8px;top:505.12px;width:57.7px;height:9.96px;line-height:9.96px;font-size:8.3px;text-align:right;padding-right:5.5px;font-weight:bold;">1,238</div>
<div class="t " style="left:305.5px;top:505.12px;width:45.1px;height:9.96px;line-height:9.96px;font-size:8.3px;text-align:right;padding-right:3.0px;font-weight:bold;">2,014</div>
<div class="t " style="left:350.6px;top:505.12px;width:44.0px;height:9.96px;line-height:9.96px;font-size:8.3px;text-align:right;padding-right:1.9px;font-weight:bold;">60</div>
<div class="t " style="left:394.6px;top:505.12px;width:44.7px;height:9.96px;line-height:9.96px;font-size:8.3px;text-align:right;padding-right:2.7px;font-weight:bold;">2,074</div>
<div class="t " style="left:439.3px;top:505.12px;width:45.9px;height:9.96px;line-height:9.96px;font-size:8.3px;text-align:right;padding-right:2.1px;font-weight:bold;">34</div>
<div class="t " style="left:485.2px;top:505.12px;width:47.1px;height:9.96px;line-height:9.96px;font-size:8.3px;text-align:right;padding-right:2.8px;font-weight:bold;">290</div>
<div class="t " style="left:532.3px;top:505.12px;width:42.3px;height:9.96px;line-height:9.96px;font-size:8.3px;text-align:right;padding-right:2.3px;font-weight:bold;">1,750</div>
<div class="t " style="left:574.6px;top:505.12px;width:43.7px;height:9.96px;line-height:9.96px;font-size:8.3px;text-align:right;padding-right:2.4px;font-weight:bold;">0</div>
<div class="t " style="left:618.3px;top:505.12px;width:44.8px;height:9.96px;line-height:9.96px;font-size:8.3px;text-align:right;padding-right:2.5px;font-weight:bold;">638</div>
<div class="t " style="left:663.1px;top:505.12px;width:40.3px;height:9.96px;line-height:9.96px;font-size:8.3px;text-align:right;padding-right:2.5px;font-weight:bold;">638</div>
<div class="t " style="left:703.4px;top:505.12px;width:48.8px;height:9.96px;line-height:9.96px;font-size:8.3px;text-align:right;padding-right:2.5px;font-weight:bold;">1,112</div>
<div class="t " style="left:38.3px;top:517.51px;width:209.5px;height:8.42px;line-height:8.42px;font-size:7.02px;text-align:left;padding-left:1.7px;font-weight:bold;">TWIN TOWERS CORRECTIONAL FACILITY-TOWER 2</div>
<div class="t " style="left:247.8px;top:516.35px;width:57.7px;height:9.96px;line-height:9.96px;font-size:8.3px;text-align:right;padding-right:5.5px;font-weight:bold;">1,194</div>
<div class="t " style="left:305.5px;top:516.35px;width:45.1px;height:9.96px;line-height:9.96px;font-size:8.3px;text-align:right;padding-right:3.0px;font-weight:bold;">1,817</div>
<div class="t " style="left:350.6px;top:516.35px;width:44.0px;height:9.96px;line-height:9.96px;font-size:8.3px;text-align:right;padding-right:1.9px;font-weight:bold;">274</div>
<div class="t " style="left:394.6px;top:516.35px;width:44.7px;height:9.96px;line-height:9.96px;font-size:8.3px;text-align:right;padding-right:2.7px;font-weight:bold;">2,091</div>
<div class="t " style="left:439.3px;top:516.35px;width:45.9px;height:9.96px;line-height:9.96px;font-size:8.3px;text-align:right;padding-right:2.1px;font-weight:bold;">37</div>
<div class="t " style="left:485.2px;top:516.35px;width:47.1px;height:9.96px;line-height:9.96px;font-size:8.3px;text-align:right;padding-right:2.8px;font-weight:bold;">559</div>
<div class="t " style="left:532.3px;top:516.35px;width:42.3px;height:9.96px;line-height:9.96px;font-size:8.3px;text-align:right;padding-right:2.3px;font-weight:bold;">1,495</div>
<div class="t " style="left:574.6px;top:516.35px;width:43.7px;height:9.96px;line-height:9.96px;font-size:8.3px;text-align:right;padding-right:2.4px;font-weight:bold;">0</div>
<div class="t " style="left:618.3px;top:516.35px;width:44.8px;height:9.96px;line-height:9.96px;font-size:8.3px;text-align:right;padding-right:2.5px;font-weight:bold;">338</div>
<div class="t " style="left:663.1px;top:516.35px;width:40.3px;height:9.96px;line-height:9.96px;font-size:8.3px;text-align:right;padding-right:2.5px;font-weight:bold;">338</div>
<div class="t " style="left:703.4px;top:516.35px;width:48.8px;height:9.96px;line-height:9.96px;font-size:8.3px;text-align:right;padding-right:2.5px;font-weight:bold;">1,157</div>
<div class="t " style="left:38.3px;top:529.09px;width:209.5px;height:8.42px;line-height:8.42px;font-size:7.02px;text-align:right;padding-right:1.4px;font-weight:bold;">CJ &amp; TTCF MALE TOTAL</div>
<div class="t " style="left:247.8px;top:527.92px;width:57.7px;height:9.96px;line-height:9.96px;font-size:8.3px;text-align:right;padding-right:5.5px;font-weight:bold;">5,944</div>
<div class="t " style="left:305.5px;top:527.92px;width:45.1px;height:9.96px;line-height:9.96px;font-size:8.3px;text-align:right;padding-right:3.0px;font-weight:bold;">9,086</div>
<div class="t " style="left:350.6px;top:527.92px;width:44.0px;height:9.96px;line-height:9.96px;font-size:8.3px;text-align:right;padding-right:1.9px;font-weight:bold;">334</div>
<div class="t " style="left:394.6px;top:527.92px;width:44.7px;height:9.96px;line-height:9.96px;font-size:8.3px;text-align:right;padding-right:2.7px;font-weight:bold;">9,420</div>
<div class="t " style="left:439.3px;top:527.92px;width:45.9px;height:9.96px;line-height:9.96px;font-size:8.3px;text-align:right;padding-right:2.1px;font-weight:bold;">595</div>
<div class="t " style="left:485.2px;top:527.92px;width:47.1px;height:9.96px;line-height:9.96px;font-size:8.3px;text-align:right;padding-right:2.8px;font-weight:bold;">891</div>
<div class="t " style="left:532.3px;top:527.92px;width:42.3px;height:9.96px;line-height:9.96px;font-size:8.3px;text-align:right;padding-right:2.3px;font-weight:bold;">7,934</div>
<div class="t " style="left:574.6px;top:527.92px;width:43.7px;height:9.96px;line-height:9.96px;font-size:8.3px;text-align:right;padding-right:2.4px;font-weight:bold;">108</div>
<div class="t " style="left:618.3px;top:527.92px;width:44.8px;height:9.96px;line-height:9.96px;font-size:8.3px;text-align:right;padding-right:2.5px;font-weight:bold;">1,783</div>
<div class="t " style="left:663.1px;top:527.92px;width:40.3px;height:9.96px;line-height:9.96px;font-size:8.3px;text-align:right;padding-right:2.5px;font-weight:bold;">1,891</div>
<div class="t " style="left:703.4px;top:527.92px;width:48.8px;height:9.96px;line-height:9.96px;font-size:8.3px;text-align:right;padding-right:2.5px;font-weight:bold;">6,043</div>
<div class="t " style="left:38.3px;top:540.86px;width:209.5px;height:8.42px;line-height:8.42px;font-size:7.02px;text-align:left;padding-left:1.7px;font-weight:bold;">CENTURY REGIONAL DETENTION FACILITY (FEMALES)</div>
<div class="t " style="left:247.8px;top:539.69px;width:57.7px;height:9.96px;line-height:9.96px;font-size:8.3px;text-align:right;padding-right:5.5px;font-weight:bold;">1,708</div>
<div class="t " style="left:305.5px;top:539.69px;width:45.1px;height:9.96px;line-height:9.96px;font-size:8.3px;text-align:right;padding-right:3.0px;font-weight:bold;">2,158</div>
<div class="t " style="left:350.6px;top:539.69px;width:44.0px;height:9.96px;line-height:9.96px;font-size:8.3px;text-align:right;padding-right:1.9px;font-weight:bold;">372</div>
<div class="t " style="left:394.6px;top:539.69px;width:44.7px;height:9.96px;line-height:9.96px;font-size:8.3px;text-align:right;padding-right:2.7px;font-weight:bold;">2,530</div>
<div class="t " style="left:439.3px;top:539.69px;width:45.9px;height:9.96px;line-height:9.96px;font-size:8.3px;text-align:right;padding-right:2.1px;font-weight:bold;">14</div>
<div class="t " style="left:485.2px;top:539.69px;width:47.1px;height:9.96px;line-height:9.96px;font-size:8.3px;text-align:right;padding-right:2.8px;font-weight:bold;">35</div>
<div class="t " style="left:532.3px;top:539.69px;width:42.3px;height:9.96px;line-height:9.96px;font-size:8.3px;text-align:right;padding-right:2.3px;font-weight:bold;">2,481</div>
<div class="t " style="left:574.6px;top:539.69px;width:43.7px;height:9.96px;line-height:9.96px;font-size:8.3px;text-align:right;padding-right:2.4px;font-weight:bold;">300</div>
<div class="t " style="left:618.3px;top:539.69px;width:44.8px;height:9.96px;line-height:9.96px;font-size:8.3px;text-align:right;padding-right:2.5px;font-weight:bold;">415</div>
<div class="t " style="left:663.1px;top:539.69px;width:40.3px;height:9.96px;line-height:9.96px;font-size:8.3px;text-align:right;padding-right:2.5px;font-weight:bold;">1,191</div>
<div class="t " style="left:703.4px;top:539.69px;width:48.8px;height:9.96px;line-height:9.96px;font-size:8.3px;text-align:right;padding-right:2.5px;font-weight:bold;">1,290</div>
<div class="t " style="left:38.3px;top:552.39px;width:209.5px;height:8.42px;line-height:8.42px;font-size:7.02px;text-align:right;padding-right:1.4px;font-weight:bold;">CRDF FEMALE TOTAL</div>
<div class="t " style="left:247.8px;top:551.22px;width:57.7px;height:9.96px;line-height:9.96px;font-size:8.3px;text-align:right;padding-right:5.5px;font-weight:bold;">1,708</div>
<div class="t " style="left:305.5px;top:551.22px;width:45.1px;height:9.96px;line-height:9.96px;font-size:8.3px;text-align:right;padding-right:3.0px;font-weight:bold;">2,158</div>
<div class="t " style="left:350.6px;top:551.22px;width:44.0px;height:9.96px;line-height:9.96px;font-size:8.3px;text-align:right;padding-right:1.9px;font-weight:bold;">372</div>
<div class="t " style="left:394.6px;top:551.22px;width:44.7px;height:9.96px;line-height:9.96px;font-size:8.3px;text-align:right;padding-right:2.7px;font-weight:bold;">2,530</div>
<div class="t " style="left:439.3px;top:551.22px;width:45.9px;height:9.96px;line-height:9.96px;font-size:8.3px;text-align:right;padding-right:2.1px;font-weight:bold;">14</div>
<div class="t " style="left:485.2px;top:551.22px;width:47.1px;height:9.96px;line-height:9.96px;font-size:8.3px;text-align:right;padding-right:2.8px;font-weight:bold;">35</div>
<div class="t " style="left:532.3px;top:551.22px;width:42.3px;height:9.96px;line-height:9.96px;font-size:8.3px;text-align:right;padding-right:2.3px;font-weight:bold;">2,481</div>
<div class="t " style="left:574.6px;top:551.22px;width:43.7px;height:9.96px;line-height:9.96px;font-size:8.3px;text-align:right;padding-right:2.4px;font-weight:bold;">300</div>
<div class="t " style="left:618.3px;top:551.22px;width:44.8px;height:9.96px;line-height:9.96px;font-size:8.3px;text-align:right;padding-right:2.5px;font-weight:bold;">415</div>
<div class="t " style="left:663.1px;top:551.22px;width:40.3px;height:9.96px;line-height:9.96px;font-size:8.3px;text-align:right;padding-right:2.5px;font-weight:bold;">1,191</div>
<div class="t " style="left:703.4px;top:551.22px;width:48.8px;height:9.96px;line-height:9.96px;font-size:8.3px;text-align:right;padding-right:2.5px;font-weight:bold;">1,290</div>
<div class="t " style="left:38.3px;top:564.44px;width:209.5px;height:8.42px;line-height:8.42px;font-size:7.02px;text-align:left;padding-left:1.7px;font-weight:bold;">CORRECTIONAL TREATMENT CENTER (MSB) MALES</div>
<div class="t " style="left:703.4px;top:563.27px;width:48.8px;height:9.96px;line-height:9.96px;font-size:8.3px;text-align:right;padding-right:2.5px;font-weight:bold;">97</div>
<div class="t " style="left:38.3px;top:576.89px;width:209.5px;height:8.42px;line-height:8.42px;font-size:7.02px;text-align:left;padding-left:1.7px;font-weight:bold;">CORRECTIONAL TREATMENT CENTER (MSB) FEMALES</div>
<div class="t " style="left:703.4px;top:575.72px;width:48.8px;height:9.96px;line-height:9.96px;font-size:8.3px;text-align:right;padding-right:2.5px;font-weight:bold;">17</div>
<div class="t " style="left:38.3px;top:589.24px;width:209.5px;height:8.42px;line-height:8.42px;font-size:7.02px;text-align:right;padding-right:1.4px;font-weight:bold;">CORRECTIONAL TREATMENT CENTER&nbsp; TOTAL</div>
<div class="t " style="left:247.8px;top:589.05px;width:57.7px;height:6.60px;line-height:6.60px;font-size:5.5px;text-align:right;padding-right:0.4px;font-weight:bold;letter-spacing:0.55px;">*NR</div>
<div class="t " style="left:305.5px;top:588.07px;width:45.1px;height:9.96px;line-height:9.96px;font-size:8.3px;text-align:right;padding-right:1.7px;font-weight:bold;">196</div>
<div class="t " style="left:350.6px;top:588.07px;width:44.0px;height:9.96px;line-height:9.96px;font-size:8.3px;text-align:right;padding-right:1.9px;font-weight:bold;">0</div>
<div class="t " style="left:394.6px;top:588.07px;width:44.7px;height:9.96px;line-height:9.96px;font-size:8.3px;text-align:right;padding-right:2.7px;font-weight:bold;">196</div>
<div class="t " style="left:439.3px;top:588.07px;width:45.9px;height:9.96px;line-height:9.96px;font-size:8.3px;text-align:right;padding-right:2.1px;font-weight:bold;">0</div>
<div class="t " style="left:485.2px;top:588.07px;width:47.1px;height:9.96px;line-height:9.96px;font-size:8.3px;text-align:right;padding-right:2.8px;font-weight:bold;">0</div>
<div class="t " style="left:532.3px;top:588.07px;width:42.3px;height:9.96px;line-height:9.96px;font-size:8.3px;text-align:right;padding-right:2.3px;font-weight:bold;">196</div>
<div class="t " style="left:574.6px;top:588.07px;width:43.7px;height:9.96px;line-height:9.96px;font-size:8.3px;text-align:right;padding-right:2.4px;font-weight:bold;">0</div>
<div class="t " style="left:618.3px;top:588.07px;width:44.8px;height:9.96px;line-height:9.96px;font-size:8.3px;text-align:right;padding-right:2.5px;font-weight:bold;">82</div>
<div class="t " style="left:663.1px;top:588.07px;width:40.3px;height:9.96px;line-height:9.96px;font-size:8.3px;text-align:right;padding-right:2.5px;font-weight:bold;">82</div>
<div class="t " style="left:703.4px;top:588.07px;width:48.8px;height:9.96px;line-height:9.96px;font-size:8.3px;text-align:right;padding-right:2.5px;font-weight:bold;">114</div>
<div class="t " style="left:38.3px;top:601.59px;width:209.5px;height:8.42px;line-height:8.42px;font-size:7.02px;text-align:left;padding-left:1.7px;font-weight:bold;">LCMC JAIL WARDS MALE</div>
<div class="t " style="left:703.4px;top:600.42px;width:48.8px;height:9.96px;line-height:9.96px;font-size:8.3px;text-align:right;padding-right:2.5px;font-weight:bold;">19</div>
<div class="t " style="left:38.3px;top:614.09px;width:209.5px;height:8.42px;line-height:8.42px;font-size:7.02px;text-align:left;padding-left:1.7px;font-weight:bold;">LCMC JAIL WARDS FEMALE</div>
<div class="t " style="left:703.4px;top:612.92px;width:48.8px;height:9.96px;line-height:9.96px;font-size:8.3px;text-align:right;padding-right:2.5px;font-weight:bold;">1</div>
<div class="t " style="left:38.3px;top:626.49px;width:209.5px;height:8.42px;line-height:8.42px;font-size:7.02px;text-align:right;padding-right:1.4px;font-weight:bold;">LCMC JAIL WARD TOTAL</div>
<div class="t " style="left:247.8px;top:626.30px;width:57.7px;height:6.60px;line-height:6.60px;font-size:5.5px;text-align:right;padding-right:0.4px;font-weight:bold;letter-spacing:0.55px;">*NR</div>
<div class="t " style="left:305.5px;top:625.32px;width:45.1px;height:9.96px;line-height:9.96px;font-size:8.3px;text-align:right;padding-right:1.7px;font-weight:bold;">40</div>
<div class="t " style="left:350.6px;top:625.32px;width:44.0px;height:9.96px;line-height:9.96px;font-size:8.3px;text-align:right;padding-right:1.9px;font-weight:bold;">0</div>
<div class="t " style="left:394.6px;top:625.32px;width:44.7px;height:9.96px;line-height:9.96px;font-size:8.3px;text-align:right;padding-right:2.7px;font-weight:bold;">40</div>
<div class="t " style="left:439.3px;top:625.32px;width:45.9px;height:9.96px;line-height:9.96px;font-size:8.3px;text-align:right;padding-right:2.1px;font-weight:bold;">0</div>
<div class="t " style="left:485.2px;top:625.32px;width:47.1px;height:9.96px;line-height:9.96px;font-size:8.3px;text-align:right;padding-right:2.8px;font-weight:bold;">0</div>
<div class="t " style="left:532.3px;top:625.32px;width:42.3px;height:9.96px;line-height:9.96px;font-size:8.3px;text-align:right;padding-right:2.3px;font-weight:bold;">40</div>
<div class="t " style="left:574.6px;top:625.32px;width:43.7px;height:9.96px;line-height:9.96px;font-size:8.3px;text-align:right;padding-right:2.4px;font-weight:bold;">0</div>
<div class="t " style="left:618.3px;top:625.32px;width:44.8px;height:9.96px;line-height:9.96px;font-size:8.3px;text-align:right;padding-right:2.5px;font-weight:bold;">20</div>
<div class="t " style="left:663.1px;top:625.32px;width:40.3px;height:9.96px;line-height:9.96px;font-size:8.3px;text-align:right;padding-right:2.5px;font-weight:bold;">20</div>
<div class="t " style="left:703.4px;top:625.32px;width:48.8px;height:9.96px;line-height:9.96px;font-size:8.3px;text-align:right;padding-right:2.5px;font-weight:bold;">20</div>
<div class="t " style="left:38.3px;top:638.69px;width:209.5px;height:8.42px;line-height:8.42px;font-size:7.02px;text-align:right;padding-right:1.4px;font-weight:bold;">OCCUPIED TOTAL</div>
<div class="t " style="left:247.8px;top:636.74px;width:57.7px;height:11.52px;line-height:11.52px;font-size:9.6px;text-align:right;padding-right:5.5px;font-weight:bold;"></div>
<div class="t " style="left:305.5px;top:636.74px;width:45.1px;height:11.52px;line-height:11.52px;font-size:9.6px;text-align:right;padding-right:1.7px;font-weight:bold;">20,842</div>
<div class="t " style="left:350.6px;top:636.74px;width:44.0px;height:11.52px;line-height:11.52px;font-size:9.6px;text-align:right;padding-right:1.9px;font-weight:bold;">736</div>
<div class="t " style="left:394.6px;top:636.74px;width:44.7px;height:11.52px;line-height:11.52px;font-size:9.6px;text-align:right;padding-right:2.7px;font-weight:bold;">21,578</div>
<div class="t " style="left:439.3px;top:636.74px;width:45.9px;height:11.52px;line-height:11.52px;font-size:9.6px;text-align:right;padding-right:2.1px;font-weight:bold;">748</div>
<div class="t " style="left:485.2px;top:636.74px;width:47.1px;height:11.52px;line-height:11.52px;font-size:9.6px;text-align:right;padding-right:2.8px;font-weight:bold;">4,280</div>
<div class="t " style="left:532.3px;top:636.74px;width:42.3px;height:11.52px;line-height:11.52px;font-size:9.6px;text-align:right;padding-right:2.3px;font-weight:bold;">16,550</div>
<div class="t " style="left:574.6px;top:636.74px;width:43.7px;height:11.52px;line-height:11.52px;font-size:9.6px;text-align:right;padding-right:2.4px;font-weight:bold;">976</div>
<div class="t " style="left:618.3px;top:636.74px;width:44.8px;height:11.52px;line-height:11.52px;font-size:9.6px;text-align:right;padding-right:2.5px;font-weight:bold;">3,046</div>
<div class="t " style="left:663.1px;top:636.74px;width:40.3px;height:11.52px;line-height:11.52px;font-size:9.6px;text-align:right;padding-right:2.5px;font-weight:bold;">4,498</div>
<div class="t " style="left:703.4px;top:636.74px;width:48.8px;height:11.52px;line-height:11.52px;font-size:9.6px;text-align:right;padding-right:2.5px;font-weight:bold;">12,052</div>
<div class="t " style="left:38.3px;top:651.19px;width:209.5px;height:8.42px;line-height:8.42px;font-size:7.02px;text-align:left;padding-left:1.7px;font-weight:bold;">INMATE RECEPTION CENTER</div>
<div class="t " style="left:703.4px;top:650.02px;width:48.8px;height:9.96px;line-height:9.96px;font-size:8.3px;text-align:right;padding-right:2.5px;font-weight:bold;">191</div>
<div class="t " style="left:38.3px;top:663.69px;width:209.5px;height:8.42px;line-height:8.42px;font-size:7.02px;text-align:left;padding-left:1.7px;font-weight:bold;">CRDF RECEPTION CENTER</div>
<div class="t " style="left:703.4px;top:662.52px;width:48.8px;height:9.96px;line-height:9.96px;font-size:8.3px;text-align:right;padding-right:2.5px;font-weight:bold;">1</div>
<div class="t " style="left:38.3px;top:675.94px;width:209.5px;height:8.42px;line-height:8.42px;font-size:7.02px;text-align:right;padding-right:1.4px;font-weight:bold;">RECEPTION CENTERS TOTAL</div>
<div class="t " style="left:703.4px;top:674.77px;width:48.8px;height:9.96px;line-height:9.96px;font-size:8.3px;text-align:right;padding-right:2.5px;font-weight:bold;">192</div>
<div class="t " style="left:38.3px;top:687.94px;width:209.5px;height:8.42px;line-height:8.42px;font-size:7.02px;text-align:right;padding-right:1.4px;font-weight:bold;">TOTAL BSCC RATED CAPACITY</div>
<div class="t " style="left:247.8px;top:686.29px;width:57.7px;height:11.52px;line-height:11.52px;font-size:9.6px;text-align:right;padding-right:2.5px;font-weight:bold;">12,404</div>
<div class="t " style="left:618.3px;top:688.57px;width:85.1px;height:7.15px;line-height:7.15px;font-size:5.96px;text-align:center;font-weight:bold;">MALE DIVISION TOTAL</div>
<div class="t " style="left:703.4px;top:685.59px;width:48.8px;height:11.52px;line-height:11.52px;font-size:9.6px;text-align:right;padding-right:1.4px;font-weight:bold;">10,935</div>
<div class="t " style="left:618.3px;top:701.05px;width:85.1px;height:7.15px;line-height:7.15px;font-size:5.96px;text-align:center;font-weight:bold;">FEMALE DIVISION TOTAL</div>
<div class="t " style="left:703.4px;top:698.17px;width:48.8px;height:11.52px;line-height:11.52px;font-size:9.6px;text-align:right;padding-right:1.4px;font-weight:bold;">1,309</div>
<div class="t " style="left:532.3px;top:711.20px;width:171.1px;height:11.64px;line-height:11.64px;font-size:9.7px;text-align:center;font-weight:bold;">CUSTODY DIVISION TOTAL</div>
<div class="t " style="left:703.4px;top:710.47px;width:48.8px;height:11.52px;line-height:11.52px;font-size:9.6px;text-align:right;padding-right:1.4px;font-weight:bold;">12,244</div>
<div class="t ml" style="left:38.3px;top:737.20px;width:209.5px;height:9.40px;line-height:9.40px;font-size:7.86px;text-align:center;font-weight:bold;">GRAND TOTAL INCLUDES ATC (ALTERNATIVE TO<br>CUSTODY), FIRE CAMP AND STATION WORKERS.</div>
<div class="t " style="left:618.3px;top:736.97px;width:85.1px;height:7.32px;line-height:7.32px;font-size:6.1px;text-align:center;font-weight:bold;">MALE ATC TOTAL</div>
<div class="t " style="left:703.4px;top:735.27px;width:48.8px;height:11.52px;line-height:11.52px;font-size:9.6px;text-align:right;padding-right:2.5px;font-weight:bold;">110</div>
<div class="t " style="left:618.3px;top:748.97px;width:85.1px;height:7.32px;line-height:7.32px;font-size:6.1px;text-align:center;font-weight:bold;">FEMALE ATC TOTAL</div>
<div class="t " style="left:703.4px;top:747.27px;width:48.8px;height:11.52px;line-height:11.52px;font-size:9.6px;text-align:right;padding-right:2.5px;font-weight:bold;">7</div>
<div class="t " style="left:618.3px;top:758.90px;width:85.1px;height:11.40px;line-height:11.40px;font-size:9.5px;text-align:center;font-weight:bold;">GRAND TOTAL</div>
<div class="t " style="left:703.4px;top:759.34px;width:48.8px;height:11.52px;line-height:11.52px;font-size:9.6px;text-align:right;padding-right:2.5px;font-weight:bold;">12,361</div>
<div class="t fn" style="left:39.6px;top:783.33px;width:740.4px;height:7.34px;line-height:7.34px;font-size:6.12px;text-align:left;padding-left:0px;font-weight:normal;font-style:italic;color:#000;">Fire Camp Program Count: Inmates housed at a CDCR Fire Camp.</div>
<div class="t fn" style="left:39.6px;top:790.93px;width:740.4px;height:7.34px;line-height:7.34px;font-size:6.12px;text-align:left;padding-left:0px;font-weight:normal;font-style:italic;color:#000;">Fire Camp Training Count: Inmates housed at PDC East.</div>
<div class="t fn" style="left:39.6px;top:798.93px;width:740.4px;height:7.34px;line-height:7.34px;font-size:6.12px;text-align:left;padding-left:0px;font-weight:normal;font-style:italic;color:#000;">BSCC Rated Capacity: Inspection date 2020</div>
<div class="t fn" style="left:39.6px;top:806.53px;width:740.4px;height:7.34px;line-height:7.34px;font-size:6.12px;text-align:left;padding-left:0px;font-weight:normal;font-style:italic;color:#000;">*NR: Capacity not rated by BSCC</div>
<div class="t fn" style="left:39.6px;top:813.73px;width:740.4px;height:7.34px;line-height:7.34px;font-size:6.12px;text-align:left;padding-left:0px;font-weight:normal;font-style:italic;color:#000;">Facility Capacity: Total beds reported by each facility.</div>
<div class="t fn" style="left:39.6px;top:822.53px;width:740.4px;height:7.34px;line-height:7.34px;font-size:6.12px;text-align:left;padding-left:0px;font-weight:normal;font-style:italic;color:#000;">Overflow Capacity: Total dayroom beds added to each facility.</div>
<div class="t fn" style="left:39.6px;top:829.73px;width:740.4px;height:7.34px;line-height:7.34px;font-size:6.12px;text-align:left;padding-left:0px;font-weight:normal;font-style:italic;color:#000;">Adjusted Capacity: Total number of Facility Capacity + Overflow Capacity</div>
<div class="t fn" style="left:39.6px;top:837.13px;width:740.4px;height:7.34px;line-height:7.34px;font-size:6.12px;text-align:left;padding-left:0px;font-weight:normal;font-style:italic;color:#000;">Available "RESTRICTED" Beds: Inmate Workers, Medical, Discipline, School, Child Sex Crimes,&nbsp; LGBT, K-10, K-1, SVP, Etc.</div>
<div class="t fn" style="left:39.6px;top:844.13px;width:740.4px;height:7.34px;line-height:7.34px;font-size:6.12px;text-align:left;padding-left:0px;font-weight:normal;font-style:italic;color:#000;">CRDF Reception Center BSCC: Includes Module 1400 - Receiving Housing</div>
<div class="t fn" style="left:39.6px;top:851.63px;width:740.4px;height:7.34px;line-height:7.34px;font-size:6.12px;text-align:left;padding-left:0px;font-weight:normal;color:#000;">As of 5/19/15 the Division Grand Total includes CBAC/CTU and Fire Camp</div>
<div class="t fn" style="left:39.6px;top:858.53px;width:740.4px;height:7.34px;line-height:7.34px;font-size:6.12px;text-align:left;padding-left:0px;font-weight:normal;color:#000;">California Code of Regulations Title 15. Crime Prevention and Corrections 3274. Inmate Count (a) "A physical count of all inmates shall be taken."</div>
<div class="t fn" style="left:39.6px;top:879.73px;width:740.4px;height:7.34px;line-height:7.34px;font-size:6.12px;text-align:left;padding-left:0px;font-weight:normal;color:#000;">This summary data document was created by the Los Angeles County Sheriff's Department as an internal population management tool.</div>
<div class="t fn" style="left:39.6px;top:887.43px;width:740.4px;height:7.34px;line-height:7.34px;font-size:6.12px;text-align:left;padding-left:0px;font-weight:normal;color:#000;">The information contained within this report is deemed accurate only as of the generation date and time due to the constant, dynamic change of the population.</div>
<div class="t fn" style="left:39.6px;top:895.33px;width:740.4px;height:7.34px;line-height:7.34px;font-size:6.12px;text-align:left;padding-left:0px;font-weight:normal;color:#000;">The Department makes no warranties, express or implied, as to the fitness of this information for any purpose, or with respect to results obtained by individuals</div>
<div class="t fn" style="left:39.6px;top:902.83px;width:740.4px;height:7.34px;line-height:7.34px;font-size:6.12px;text-align:left;padding-left:0px;font-weight:normal;color:#000;">or other entities resulting from the use of any such information.</div>
<div class="t fn" style="left:39.6px;top:910.83px;width:740.4px;height:7.34px;line-height:7.34px;font-size:6.12px;text-align:left;padding-left:0px;font-weight:normal;color:#000;">This report has been compiled on a best efforts basis, and, the information is subject to daily change.</div>
<div class="t " style="left:95.3px;top:119.56px;width:104.7px;height:10.08px;line-height:10.08px;font-size:8.4px;text-align:left;padding-left:0px;font-weight:normal;font-style:italic;color:#333;font-family:&quot;Liberation Serif&quot;,serif;">Los Angeles County</div>
<div class="t sd" style="left:95.4px;top:127.64px;width:144.6px;height:11.52px;line-height:11.52px;font-size:9.6px;text-align:left;padding-left:0px;font-weight:bold;color:#000;">Sheriff's Department</div>
</body></html>
